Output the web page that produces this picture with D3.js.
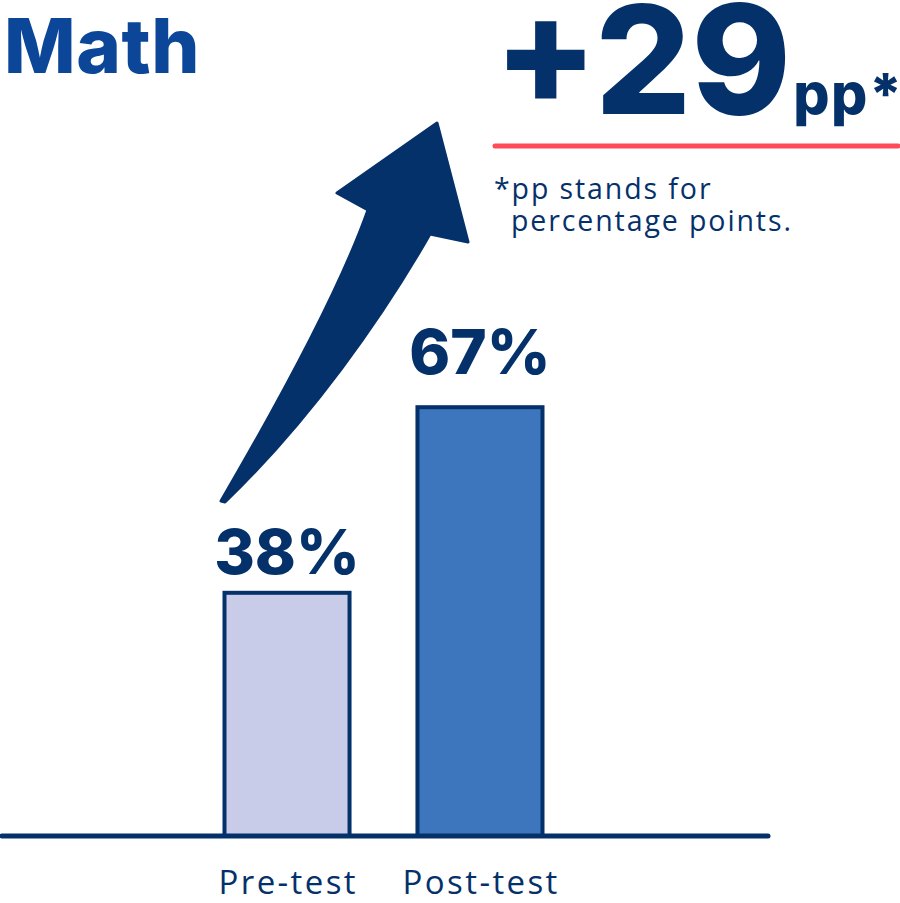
<!DOCTYPE html>
<html><head><meta charset="utf-8">
<script src="https://cdn.jsdelivr.net/npm/d3@7"></script>
<style>html,body{margin:0;padding:0;background:#fff;}svg{display:block;}</style>
</head><body>
<script>
const categories = ["Pre-test", "Post-test"];
const values = [38, 67];
const valueLabels = ["38%", "67%"];
const titleText = "Math";
const changeText = "+29";
const changeUnit = "pp*";
const footnoteLines = ["*pp stands for", "percentage points."];

const W = 900, H = 903;
const navy = "#05316b", titleBlue = "#0b4699";
const fills = ["#c8cce8", "#3e76bd"];

const svg = d3.select("body").append("svg").attr("width", W).attr("height", H);

const x = d3.scaleBand().domain(categories).range([224.5, 542.5]).paddingInner(0.352).paddingOuter(0);
const y = d3.scaleLinear().domain([0, 100]).range([836, 196]);
const yLabel = d3.scaleLinear().domain([0, 100]).range([836, 146]);

// Title
svg.append("text").attr("x", 4).attr("y", 73).text(titleText)
  .attr("font-family", "Inter").attr("font-weight", 800).attr("font-size", 76)
  .attr("letter-spacing", 0.5).attr("fill", titleBlue);

// Big change
const big = svg.append("text").attr("x", 494).attr("y", 114)
  .attr("font-family", "Inter").attr("font-weight", 800).attr("fill", navy);
big.append("tspan").attr("font-size", 151).attr("letter-spacing", 0).text(changeText);
big.append("tspan").attr("font-size", 57).attr("dx", 2).attr("letter-spacing", 1.5).text(changeUnit);

// red underline
svg.append("line").attr("x1", 495).attr("x2", 898).attr("y1", 146).attr("y2", 146)
  .attr("stroke", "#ff4a57").attr("stroke-width", 5).attr("stroke-linecap", "round");

// footnote
svg.append("text").attr("x", 494).attr("y", 199).text(footnoteLines[0])
  .attr("font-family", "Open Sans").attr("font-size", 28.5).attr("letter-spacing", 1.9).attr("fill", navy);
svg.append("text").attr("x", 511).attr("y", 231).text(footnoteLines[1])
  .attr("font-family", "Open Sans").attr("font-size", 28.5).attr("letter-spacing", 1.9).attr("fill", navy);

// Bars
svg.selectAll("rect.bar").data(categories).join("rect").attr("class", "bar")
  .attr("x", d => x(d)).attr("width", x.bandwidth())
  .attr("y", (d, i) => y(values[i])).attr("height", (d, i) => y(0) - y(values[i]))
  .attr("fill", (d, i) => fills[i]).attr("stroke", navy).attr("stroke-width", 4);

// value labels
svg.selectAll("text.val").data(categories).join("text").attr("class", "val")
  .attr("x", d => x(d) + x.bandwidth() / 2)
  .attr("y", (d, i) => yLabel(values[i]))
  .attr("text-anchor", "middle").text((d, i) => valueLabels[i])
  .attr("font-family", "Inter").attr("font-weight", 800).attr("font-size", 62)
  .attr("fill", navy);

// baseline
svg.append("line").attr("x1", 2).attr("x2", 768).attr("y1", y(0)).attr("y2", y(0))
  .attr("stroke", navy).attr("stroke-width", 5).attr("stroke-linecap", "round");

// category axis labels
const xAxis = d3.axisBottom(x).tickSize(0).tickPadding(0);
const gx = svg.append("g").attr("transform", `translate(0,${y(0)})`).call(xAxis);
gx.select(".domain").remove();
gx.selectAll("text").attr("font-family", "Open Sans").attr("font-size", 33)
  .attr("letter-spacing", 2.4).attr("dx", 1.2)
  .attr("fill", navy).attr("y", 58).attr("dy", 0);

// curved arrow annotation (rising from pre-test toward post-test)
const p = d3.path();
p.moveTo(221, 501);
p.quadraticCurveTo(333, 309, 368, 210);
p.lineTo(337, 193);
p.lineTo(437, 123);
p.lineTo(468, 242);
p.lineTo(430, 234);
p.bezierCurveTo(382, 318, 310, 420, 225, 502);
p.closePath();
svg.append("path").attr("d", p.toString()).attr("fill", navy)
  .attr("stroke", navy).attr("stroke-width", 3).attr("stroke-linejoin", "round");
</script>
</body></html>
